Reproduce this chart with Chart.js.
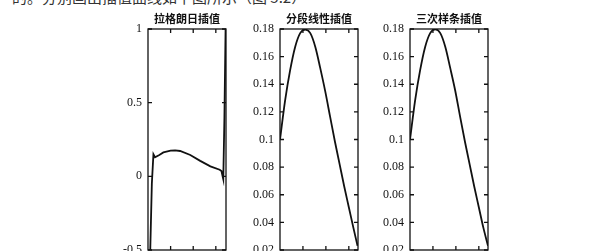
<!DOCTYPE html>
<html>
<head>
<meta charset="utf-8">
<script src="https://cdn.jsdelivr.net/npm/chart.js@4"></script>
<style>
    body { margin: 0; width: 600px; height: 251px; overflow: hidden; background: #fff; position: relative; }
    canvas { position: absolute; top: 0; }
    .scanline { position: absolute; left: 12px; top: -14px; font: 15px "Noto Sans CJK SC"; color: #333; white-space: nowrap; }
</style>
</head>
<body>
<div class="scanline">的。分别画出插值曲线如下图所示（图 5.2）</div>
<canvas id="lagrange" width="140" height="300" style="left:100px"></canvas>
<canvas id="linear" width="140" height="300" style="left:230px"></canvas>
<canvas id="spline" width="140" height="300" style="left:360px"></canvas>
<script>
// panel titles
const titles = ['拉格朗日插值', '分段线性插值', '三次样条插值'];

// x tick marks (labels are cut off below the picture)
const xTicks = [1, 2, 3];

// y tick labels
const lagrangeTicks = [-0.5, 0, 0.5, 1];
const smallTicks = [0.02, 0.04, 0.06, 0.08, 0.1, 0.12, 0.14, 0.16, 0.18];

// Lagrange interpolation curve
const lagrangeX = [0, 0.1, 0.17, 0.24, 0.31, 0.5, 0.68, 1.0, 1.2, 1.42, 1.87, 2.31, 2.76, 3.17, 3.25, 3.3, 3.33, 3.38, 3.44];
const lagrangeY = [-0.7, -0.5, -0.05, 0.15, 0.13, 0.145, 0.162, 0.174, 0.176, 0.172, 0.145, 0.105, 0.068, 0.045, 0.036, 0.0, -0.02, 0.4, 1.1];

// piecewise linear interpolation
const linearX = [0, 0.22, 0.44, 0.66, 0.88, 1.1, 1.32, 1.54, 1.75, 1.97, 2.19, 2.4, 2.6, 2.8, 3.0, 3.2, 3.38];
const linearY = [0.1, 0.128, 0.150, 0.167, 0.177, 0.1795, 0.177, 0.167, 0.152, 0.135, 0.116, 0.098, 0.082, 0.066, 0.051, 0.036, 0.023];

// cubic spline interpolation
const splineX = [0, 0.22, 0.44, 0.66, 0.88, 1.1, 1.32, 1.54, 1.75, 1.97, 2.19, 2.4, 2.6, 2.8, 3.0, 3.2, 3.4];
const splineY = [0.1, 0.128, 0.150, 0.167, 0.177, 0.1798, 0.177, 0.167, 0.152, 0.1355, 0.116, 0.098, 0.082, 0.066, 0.051, 0.036, 0.023];

// box, inward ticks and title, like the old matlab axes
const framePlugin = {
    id: 'frame',
    afterDatasetsDraw(chart, args, opts) {
        const { ctx, chartArea: a, scales } = chart;
        ctx.save();
        ctx.strokeStyle = '#111';
        ctx.lineWidth = 1.3;
        ctx.strokeRect(a.left, a.top, a.width, a.height);
        ctx.beginPath();
        xTicks.forEach(v => {
            const px = scales.x.getPixelForValue(v);
            ctx.moveTo(px, a.top); ctx.lineTo(px, a.top + 4);
            ctx.moveTo(px, a.bottom); ctx.lineTo(px, a.bottom - 4);
        });
        scales.y.ticks.forEach(t => {
            const py = scales.y.getPixelForValue(t.value);
            ctx.moveTo(a.left, py); ctx.lineTo(a.left + 4, py);
            ctx.moveTo(a.right, py); ctx.lineTo(a.right - 4, py);
        });
        ctx.stroke();
        ctx.fillStyle = '#111';
        ctx.font = 'bold 11px "Noto Sans CJK SC"';
        ctx.textAlign = 'center';
        ctx.textBaseline = 'middle';
        ctx.fillText(opts.text, (a.left + a.right) / 2, 19);
        ctx.restore();
    }
};

function makePanel(id, xs, ys, opt) {
    new Chart(document.getElementById(id), {
        type: 'line',
        data: {
            datasets: [{
                data: xs.map((x, i) => ({ x: x, y: ys[i] })),
                borderColor: '#111',
                borderWidth: 1.8,
                pointRadius: 0,
                tension: opt.smooth ? 0.4 : 0,
                cubicInterpolationMode: opt.smooth ? 'monotone' : 'default'
            }]
        },
        options: {
            responsive: false,
            animation: false,
            layout: { padding: { top: 29, right: opt.padRight, left: 0, bottom: 0 } },
            plugins: {
                legend: { display: false },
                tooltip: { enabled: false },
                frame: { text: opt.title }
            },
            scales: {
                x: {
                    type: 'linear',
                    min: 0,
                    max: opt.xMax,
                    grid: { display: false, drawTicks: false },
                    border: { display: false },
                    ticks: { display: false },
                    afterFit: s => { s.height = 50; }
                },
                y: {
                    min: opt.yTicks[0],
                    max: opt.yTicks[opt.yTicks.length - 1],
                    grid: { display: false, drawTicks: false },
                    border: { display: false },
                    afterBuildTicks: s => { s.ticks = opt.yTicks.map(v => ({ value: v })); },
                    ticks: {
                        padding: 6,
                        color: '#111',
                        font: { family: '"Liberation Serif"', size: 12 },
                        callback: v => String(Number(v.toFixed(2)))
                    },
                    afterFit: s => { s.width = opt.yWidth; }
                }
            }
        },
        plugins: [framePlugin]
    });
}

makePanel('lagrange', lagrangeX, lagrangeY, { title: titles[0], xMax: 3.45, yTicks: lagrangeTicks, yWidth: 48, padRight: 14, smooth: false });
makePanel('linear', linearX, linearY, { title: titles[1], xMax: 3.4, yTicks: smallTicks, yWidth: 50, padRight: 12, smooth: true });
makePanel('spline', splineX, splineY, { title: titles[2], xMax: 3.4, yTicks: smallTicks, yWidth: 50, padRight: 12, smooth: true });
</script>
</body>
</html>
